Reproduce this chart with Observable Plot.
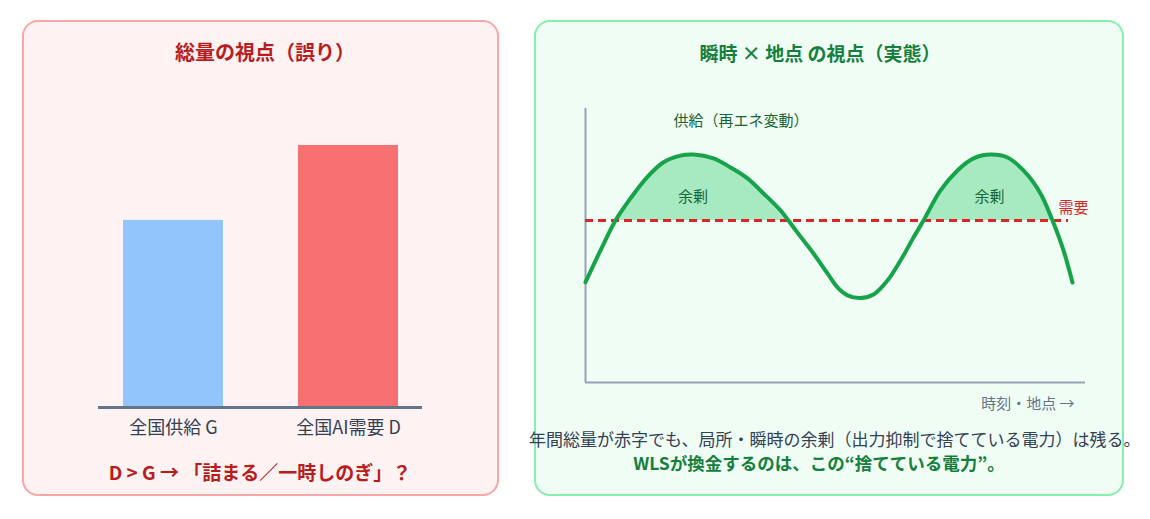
<!DOCTYPE html>
<html><head><meta charset="utf-8">
<script src="https://cdn.jsdelivr.net/npm/d3@7"></script>
<script src="https://cdn.jsdelivr.net/npm/@observablehq/plot@0.6"></script>
<style>
html,body{margin:0;padding:0;background:#fff;}
body{width:1150px;height:519px;position:relative;overflow:hidden;font-family:"Noto Sans CJK JP","Noto Sans",sans-serif;}
.panel{position:absolute;box-sizing:border-box;border-radius:16px;border:2px solid;}
#left{left:22px;top:20px;width:477px;height:476px;background:#fef2f2;border-color:#fca5a5;}
#right{left:534px;top:20px;width:590px;height:476px;background:#f0fdf4;border-color:#86efac;}
.t{position:absolute;white-space:nowrap;line-height:1;}
.c{text-align:center;width:800px;}
#chartL{position:absolute;left:48px;top:130px;}
#chartR{position:absolute;left:545px;top:95px;}
svg{overflow:visible;}
</style></head><body>
<div id="left" class="panel"></div>
<div id="right" class="panel"></div>
<div class="t c" style="left:-135px;top:42px;font-size:20px;font-weight:700;color:#b91c1c;">総量の視点（誤り）</div>
<div class="t c" style="left:-140px;top:462px;font-size:19px;font-weight:700;color:#b91c1c;">D &gt; G → 「詰まる／一時しのぎ」？</div>
<div class="t c" style="left:420px;top:42.5px;font-size:19px;font-weight:700;color:#15803d;">瞬時 × 地点 の視点（実態）</div>
<div class="t" style="left:529px;top:429.5px;font-size:17px;color:#334155;">年間総量が赤字でも、局所・瞬時の余剰（出力抑制で捨てている電力）は残る。</div>
<div class="t c" style="left:419px;top:454px;font-size:17.5px;font-weight:700;color:#15803d;">WLSが換金するのは、この“捨てている電力”。</div>
<div id="chartL"></div>
<div id="chartR"></div>
<script>
// Left panel: totals
const categories = ["全国供給 G", "全国AI需要 D"];
const totals = [100, 140];
const barColors = ["#93c5fd", "#f87171"];

// Right panel: instantaneous supply vs demand
const timePoints = [0, 3, 6, 9, 12.3, 15.6, 19, 21.6, 25.6, 29, 32.4, 35.6, 39, 40.6, 42.4, 45.6, 48.4, 50.4, 52.4, 55, 57.6, 60.4, 63, 65.6, 67.6, 71, 74.4, 77.6, 81, 84.4, 87.6, 91, 93.4, 95.6, 97.4];
const supplyValues = [36.6, 48.2, 59.1, 67.2, 74.9, 80.4, 82.8, 83.2, 81.8, 78.5, 74.5, 69.0, 62.8, 59.1, 54.7, 47.1, 39.8, 34.7, 31.8, 30.8, 32.1, 37.2, 44.5, 52.9, 59.1, 70.1, 77.4, 81.8, 83.2, 82.1, 77.4, 69.0, 59.1, 48.2, 36.5];
const demandLevel = 59.1;
const demandSpan = [0, 96.6];
const supplyLabel = {text: "供給（再エネ変動）", t: 17.6, v: 95.3};
const surplusLabels = [{text: "余剰", t: 21.5, v: 67.7}, {text: "余剰", t: 80.8, v: 67.7}];
const demandLabel = {text: "需要", t: 94.6, v: 63.5};
const xAxisLabel = {text: "時刻・地点 →", t: 97.8, v: -8};

const barData = categories.map((c, i) => ({cat: c, v: totals[i]}));
const left = Plot.plot({
  width: 420, height: 320,
  marginLeft: 50, marginRight: 46, marginTop: 15, marginBottom: 43,
  style: {background: "transparent", fontFamily: "'Noto Sans CJK JP', sans-serif", overflow: "visible"},
  x: {domain: categories, paddingInner: 0.4286, paddingOuter: 0.14, axis: null},
  y: {domain: [0, 140], axis: null},
  color: {domain: categories, range: barColors},
  marks: [
    Plot.barY(barData, {x: "cat", y: "v", fill: "cat"}),
    Plot.ruleY([0], {stroke: "#64748b", strokeWidth: 3}),
    Plot.axisX({tickSize: 0, tickPadding: 14, fontSize: 18, fill: "#334155", label: null})
  ]
});
document.getElementById("chartL").append(left);

const supply = timePoints.map((t, i) => ({t, v: supplyValues[i]}));
const bg = "#f0fdf4";
const right = Plot.plot({
  width: 560, height: 330,
  marginLeft: 40, marginRight: 20, marginTop: 13, marginBottom: 43,
  style: {background: "transparent", fontFamily: "'Noto Sans CJK JP', sans-serif", overflow: "visible"},
  x: {domain: [0, 100], axis: null},
  y: {domain: [0, 100], axis: null},
  marks: [
    Plot.areaY(supply, {x: "t", y1: 0, y2: "v", fill: "#a7e9c1", curve: "catmull-rom"}),
    Plot.areaY(supply, {x: "t", y1: 0, y2: demandLevel, fill: bg}),
    Plot.ruleX([0], {y1: 0, y2: 100, stroke: "#94a3b8", strokeWidth: 2}),
    Plot.ruleY([0], {x1: 0, x2: 100, stroke: "#94a3b8", strokeWidth: 2}),
    Plot.ruleY([demandLevel], {x1: demandSpan[0], x2: demandSpan[1], stroke: "#dc2626", strokeWidth: 3, strokeDasharray: "8,5"}),
    Plot.line(supply, {x: "t", y: "v", stroke: "#16a34a", strokeWidth: 4, curve: "catmull-rom"}),
    Plot.text([supplyLabel], {x: "t", y: "v", text: "text", fontSize: 15, textAnchor: "start", fill: "#166534"}),
    Plot.text(surplusLabels, {x: "t", y: "v", text: "text", fontSize: 15, textAnchor: "middle", fill: "#166534"}),
    Plot.text([demandLabel], {x: "t", y: "v", text: "text", fontSize: 15, textAnchor: "start", fill: "#dc2626"}),
    Plot.text([xAxisLabel], {x: "t", y: "v", text: "text", fontSize: 15, textAnchor: "end", fill: "#64748b"})
  ]
});
document.getElementById("chartR").append(right);
</script>
</body></html>
